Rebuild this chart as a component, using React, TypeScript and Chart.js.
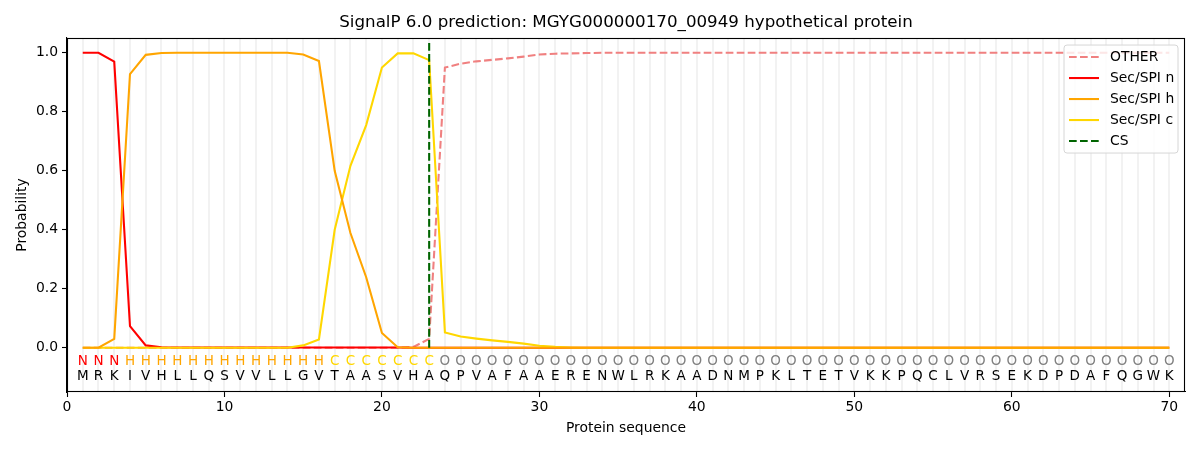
import React, { useEffect, useRef } from "react";
import { Chart, registerables } from "chart.js";

Chart.register(...registerables);

const titleText = "SignalP 6.0 prediction: MGYG000000170_00949 hypothetical protein";

const residues = [
  "M","R","K","I","V","H","L","L","Q","S","V","V","L","L","G","V","T","A","A","S",
  "V","H","A","Q","P","V","A","F","A","A","E","R","E","N","W","L","R","K","A","A",
  "D","N","M","P","K","L","T","E","T","V","K","K","P","Q","C","L","V","R","S","E",
  "K","D","P","D","A","F","Q","G","W","K",
];

const regionLabels = [
  "N","N","N","H","H","H","H","H","H","H","H","H","H","H","H","H","C","C","C","C",
  "C","C","C","O","O","O","O","O","O","O","O","O","O","O","O","O","O","O","O","O",
  "O","O","O","O","O","O","O","O","O","O","O","O","O","O","O","O","O","O","O","O",
  "O","O","O","O","O","O","O","O","O","O",
];

const positions = [
  1,2,3,4,5,6,7,8,9,10,11,12,13,14,15,16,17,18,19,20,
  21,22,23,24,25,26,27,28,29,30,31,32,33,34,35,36,37,38,39,40,
  41,42,43,44,45,46,47,48,49,50,51,52,53,54,55,56,57,58,59,60,
  61,62,63,64,65,66,67,68,69,70,
];

const otherProb = [
  0,0,0,0,0,0,0,0,0,0,0,0,0,0,0,0,0,0,0,0,
  0,0.003,0.03,0.95,0.963,0.971,0.976,0.981,0.987,0.994,0.997,0.998,0.999,1,1,1,1,1,1,1,
  1,1,1,1,1,1,1,1,1,1,1,1,1,1,1,1,1,1,1,1,
  1,1,1,1,1,1,1,1,1,1,
];

const secN = [
  1,1,0.97,0.073,0.008,0.002,0.001,0.001,0.001,0.001,0.001,0.001,0.001,0.001,0.001,0.001,0.001,0.001,0.001,0.001,
  0.001,0,0,0,0,0,0,0,0,0,0,0,0,0,0,0,0,0,0,0,
  0,0,0,0,0,0,0,0,0,0,0,0,0,0,0,0,0,0,0,0,
  0,0,0,0,0,0,0,0,0,0,
];

const secH = [
  0,0,0.03,0.928,0.993,0.999,1,1,1,1,1,1,1,1,0.994,0.972,0.6,0.389,0.239,0.05,
  0.002,0,0,0,0,0,0,0,0,0,0,0,0,0,0,0,0,0,0,0,
  0,0,0,0,0,0,0,0,0,0,0,0,0,0,0,0,0,0,0,0,
  0,0,0,0,0,0,0,0,0,0,
];

const secC = [
  0,0,0,0,0,0,0,0,0,0,0,0,0,0,0.008,0.028,0.4,0.617,0.755,0.95,
  0.998,0.998,0.975,0.052,0.038,0.031,0.025,0.02,0.014,0.007,0.003,0.001,0,0,0,0,0,0,0,0,
  0,0,0,0,0,0,0,0,0,0,0,0,0,0,0,0,0,0,0,0,
  0,0,0,0,0,0,0,0,0,0,
];

const csPosition = 23;
const csRange = [0, 1.04];

const xTickValues = [0, 10, 20, 30, 40, 50, 60, 70];
const yTickValues = [0, 0.2, 0.4, 0.6, 0.8, 1.0];

const regionColors: Record<string, string> = {
  N: "#ff0000",
  H: "#ffa500",
  C: "#ffd700",
  O: "#808080",
};

const LW = 2.08;
const DASH = [7.7, 3.3];

const legendItems = [
  { label: "OTHER", color: "#f08080", dash: DASH },
  { label: "Sec/SPI n", color: "#ff0000", dash: [] as number[] },
  { label: "Sec/SPI h", color: "#ffa500", dash: [] as number[] },
  { label: "Sec/SPI c", color: "#ffd700", dash: [] as number[] },
  { label: "CS", color: "#006400", dash: DASH },
];

const FONT = "'DejaVu Sans', sans-serif";

const toPoints = (vals: number[]) => vals.map((v, i) => ({ x: positions[i], y: v }));

const residueGridPlugin = {
  id: "residueGrid",
  beforeDatasetsDraw(chart: any) {
    const { ctx, chartArea, scales } = chart;
    ctx.save();
    ctx.strokeStyle = "#f2f2f2";
    ctx.lineWidth = 2;
    positions.forEach((p) => {
      const px = Math.round(scales.x.getPixelForValue(p));
      ctx.beginPath();
      ctx.moveTo(px, chartArea.top);
      ctx.lineTo(px, chartArea.bottom);
      ctx.stroke();
    });
    ctx.restore();
  },
};

const sequencePlugin = {
  id: "sequenceText",
  afterDatasetsDraw(chart: any) {
    const { ctx, scales } = chart;
    ctx.save();
    ctx.font = `13.5px ${FONT}`;
    ctx.textAlign = "center";
    ctx.textBaseline = "middle";
    const yLab = scales.y.getPixelForValue(-0.047);
    const yRes = scales.y.getPixelForValue(-0.098);
    positions.forEach((p, i) => {
      const px = scales.x.getPixelForValue(p);
      ctx.fillStyle = regionColors[regionLabels[i]];
      ctx.fillText(regionLabels[i], px, yLab);
      ctx.fillStyle = "#000";
      ctx.fillText(residues[i], px, yRes);
    });
    ctx.restore();
  },
};

const frameLegendPlugin = {
  id: "frameLegend",
  afterDraw(chart: any) {
    const { ctx, chartArea } = chart;
    ctx.save();
    ctx.strokeStyle = "#000";
    ctx.lineWidth = 1.1;
    ctx.strokeRect(
      Math.round(chartArea.left) + 0.5,
      Math.round(chartArea.top) + 0.5,
      Math.round(chartArea.right - chartArea.left) - 1,
      Math.round(chartArea.bottom - chartArea.top) - 1
    );

    const bx = chartArea.right - 121;
    const by = chartArea.top + 7;
    const bw = 114;
    const bh = 108;
    ctx.beginPath();
    const r = 3;
    ctx.moveTo(bx + r, by);
    ctx.lineTo(bx + bw - r, by);
    ctx.quadraticCurveTo(bx + bw, by, bx + bw, by + r);
    ctx.lineTo(bx + bw, by + bh - r);
    ctx.quadraticCurveTo(bx + bw, by + bh, bx + bw - r, by + bh);
    ctx.lineTo(bx + r, by + bh);
    ctx.quadraticCurveTo(bx, by + bh, bx, by + bh - r);
    ctx.lineTo(bx, by + r);
    ctx.quadraticCurveTo(bx, by, bx + r, by);
    ctx.closePath();
    ctx.fillStyle = "rgba(255,255,255,0.8)";
    ctx.fill();
    ctx.strokeStyle = "#d6d6d6";
    ctx.lineWidth = 1;
    ctx.stroke();

    ctx.font = `13.9px ${FONT}`;
    ctx.textBaseline = "middle";
    ctx.textAlign = "left";
    legendItems.forEach((item, i) => {
      const yy = by + 12 + i * 21;
      ctx.strokeStyle = item.color;
      ctx.lineWidth = LW;
      ctx.setLineDash(item.dash);
      ctx.beginPath();
      ctx.moveTo(bx + 5, yy);
      ctx.lineTo(bx + 35, yy);
      ctx.stroke();
      ctx.setLineDash([]);
      ctx.fillStyle = "#000";
      ctx.fillText(item.label, bx + 46, yy);
    });
    ctx.restore();
  },
};

export default function App() {
  const canvasRef = useRef<HTMLCanvasElement | null>(null);

  useEffect(() => {
    if (!canvasRef.current) return;
    Chart.defaults.font.family = FONT;
    Chart.defaults.color = "#000";
    const lineDs = (label: string, data: number[], color: string, dash: number[] = []) => ({
      label,
      data: toPoints(data),
      borderColor: color,
      backgroundColor: color,
      borderWidth: LW,
      borderDash: dash,
      pointRadius: 0,
      fill: false,
      tension: 0,
    });
    const chart = new Chart(canvasRef.current, {
      type: "line",
      data: {
        datasets: [
          {
            label: "CS",
            data: csRange.map((v) => ({ x: csPosition, y: v })),
            borderColor: "#006400",
            backgroundColor: "#006400",
            borderWidth: LW,
            borderDash: DASH,
            pointRadius: 0,
            fill: false,
          },
          lineDs("Sec/SPI h", secH, "#ffa500"),
          lineDs("Sec/SPI c", secC, "#ffd700"),
          lineDs("Sec/SPI n", secN, "#ff0000"),
          lineDs("OTHER", otherProb, "#f08080", DASH),
        ],
      },
      options: {
        animation: false,
        responsive: false,
        events: [],
        layout: { padding: { top: 0, right: 15, left: 0, bottom: 0 } },
        plugins: {
          legend: { display: false },
          tooltip: { enabled: false },
          title: {
            display: true,
            text: titleText,
            fullSize: false,
            color: "#000",
            font: { family: FONT, size: 16.7, weight: "normal" },
            padding: { top: 13, bottom: 5 },
          },
        },
        scales: {
          x: {
            type: "linear",
            min: 0,
            max: 71,
            afterBuildTicks: (scale: any) => {
              scale.ticks = xTickValues.map((v) => ({ value: v }));
            },
            afterFit: (scale: any) => {
              scale.height = 58;
            },
            ticks: {
              callback: (v: any) => String(v),
              font: { family: FONT, size: 13.9 },
              color: "#000",
              padding: 2,
              maxRotation: 0,
              autoSkip: false,
            },
            grid: {
              display: true,
              drawOnChartArea: false,
              tickLength: 5,
              tickColor: "#000",
              tickWidth: 1.1,
            },
            border: { display: true, color: "#000", width: 1.1 },
            title: {
              display: true,
              text: "Protein sequence",
              font: { family: FONT, size: 13.9 },
              color: "#000",
              padding: { top: 0, bottom: 13.7 },
            },
          },
          y: {
            type: "linear",
            min: -0.15,
            max: 1.05,
            afterBuildTicks: (scale: any) => {
              scale.ticks = yTickValues.map((v) => ({ value: v }));
            },
            afterFit: (scale: any) => {
              scale.width = 67;
            },
            ticks: {
              callback: (v: any) => Number(v).toFixed(1),
              font: { family: FONT, size: 13.9 },
              color: "#000",
              padding: 4,
              autoSkip: false,
            },
            grid: {
              display: true,
              drawOnChartArea: false,
              tickLength: 5,
              tickColor: "#000",
              tickWidth: 1.1,
            },
            border: { display: true, color: "#000", width: 1.1 },
            title: {
              display: true,
              text: "Probability",
              font: { family: FONT, size: 13.9 },
              color: "#000",
              padding: { top: 13.7, bottom: 0 },
            },
          },
        },
      } as any,
      plugins: [residueGridPlugin, sequencePlugin, frameLegendPlugin],
    });
    return () => chart.destroy();
  }, []);

  return (
    <div style={{ position: "absolute", top: 0, left: 0, width: 1200, height: 450, background: "#fff" }}>
      <canvas ref={canvasRef} width={1200} height={450} style={{ display: "block" }} />
    </div>
  );
}
